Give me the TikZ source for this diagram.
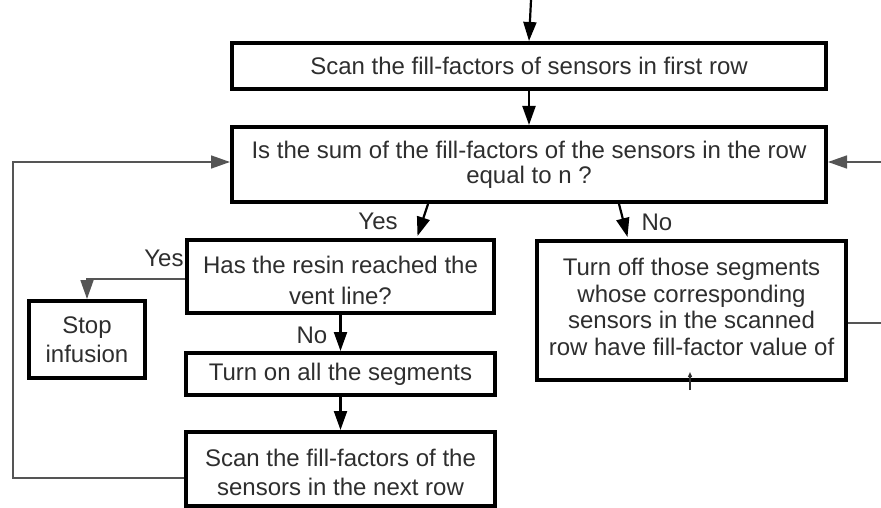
\documentclass[tikz,border=0pt]{standalone}
\usepackage{fontspec}
\setmainfont{Liberation Sans}
\usetikzlibrary{arrows.meta}
\definecolor{ink}{HTML}{2E2E2E}
\definecolor{loopline}{HTML}{555555}
\begin{document}
\begin{tikzpicture}[x=1pt,y=-1pt,
  box/.style={draw=black,line width=4pt,rectangle,inner sep=0pt,
    align=center,text=ink,font=\fontsize{24}{29}\selectfont},
  tight/.style={font=\fontsize{24}{25}\selectfont},
  txt/.style={inner sep=0pt,align=center,text=ink,font=\fontsize{24}{26.5}\selectfont},
  lbl/.style={text=ink,font=\fontsize{24}{26}\selectfont,inner sep=0pt},
  arr/.style={draw=black,line width=2.2pt,-{Triangle[length=19pt,width=13pt]}},
  back/.style={draw=loopline,line width=1.6pt,-{Triangle[length=19pt,width=13pt]}}]
\useasboundingbox (0,0) rectangle (881,508);

% process boxes
\node[box,minimum width=594pt,minimum height=46pt] (scan1) at (529,66)
  {Scan the fill-factors of sensors in first row};
\node[box,tight,minimum width=594pt,minimum height=75pt] (test) at (529,164.5)
  {Is the sum of the fill-factors of the sensors in the row\\equal to n ?};
\node[box,minimum width=307pt,minimum height=73pt] (vent) at (340.5,276.5) {};
\node[txt,font=\fontsize{24}{31}\selectfont] (venttext) at (340.5,280.5)
  {Has the resin reached the\\vent line?};
\node[box,minimum width=309pt,minimum height=42pt] (on) at (340.5,374)
  {Turn on all the segments};
\node[box,minimum width=309pt,minimum height=74pt] (scan2) at (340.5,469) {};
\node[txt,font=\fontsize{24}{29}\selectfont] (scan2text) at (340.5,472)
  {Scan the fill-factors of the\\sensors in the next row};
\node[box,minimum width=116pt,minimum height=77pt] (stop) at (87,339.5)
  {Stop\\infusion};
\node[box,minimum width=309pt,minimum height=139pt] (off) at (691.5,310.5) {};
\node[txt] (offtext) at (691.5,307)
  {Turn off those segments\\whose corresponding\\sensors in the scanned\\row have fill-factor value of};

% connector end points
\coordinate (entry) at (531,0);
\coordinate (lc) at (13,0);
\coordinate (rc) at (886,0);
\coordinate (tickA) at (690,390);
\coordinate (tickB) at (690,372);
\coordinate (ventL) at ([yshift=-2.5pt]vent.west);
\coordinate (scan2L) at ([yshift=-9pt]scan2.west);
\coordinate (testL) at ([yshift=2.5pt]test.west);
\coordinate (testR) at ([yshift=2.5pt]test.east);
\coordinate (offR) at ([yshift=-12.5pt]off.east);

% main flow
\draw[arr] (entry) -- (scan1.north);
\draw[arr] (scan1.south) -- (test.north);
\draw[arr] ([xshift=-101pt]test.south) -- ([xshift=77pt,yshift=2pt]vent.north);
\draw[arr] ([xshift=90pt]test.south) -- ([xshift=-64pt,yshift=2pt]off.north);
\draw[arr] (vent.south) -- (on.north);
\draw[arr] (on.south) -- (scan2.north);
\draw[back] (ventL) -| (stop.north);

% loops back to the row test
\draw[back] (scan2L) -- (lc |- scan2L) -- (lc |- testL) -- (testL);
\draw[back] (offR) -- (rc |- offR) -- (rc |- testR) -- (testR);
\draw[draw=ink,line width=1.2pt,-{Triangle[length=5pt,width=4pt]}] (tickA) -- (tickB);

% branch labels
\node[lbl] (yes1) at (378,221) {Yes};
\node[lbl] (no1) at (657,222) {No};
\node[lbl] (yes2) at (164,258) {Yes};
\node[lbl] (no2) at (312,335) {No};
\end{tikzpicture}
\end{document}
